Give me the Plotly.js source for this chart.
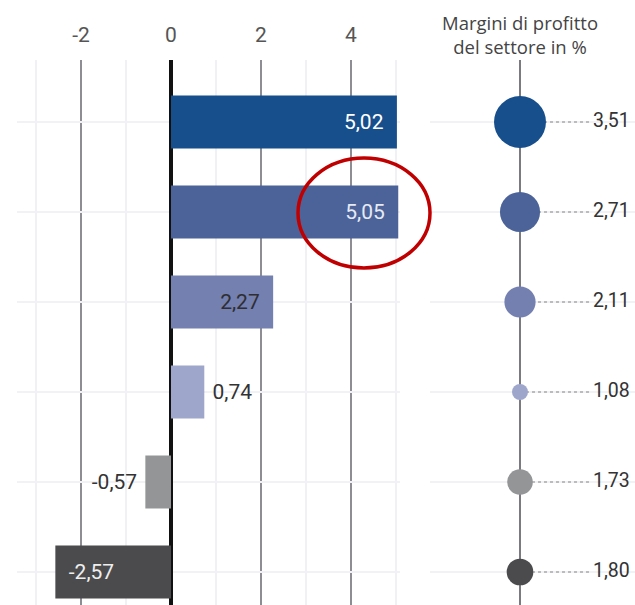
<!DOCTYPE html>
<html><head><meta charset="utf-8">
<script src="https://cdn.plot.ly/plotly-3.0.1.min.js"></script>
<style>html,body{margin:0;padding:0;background:#fff}#c{width:635px;height:605px}</style>
</head><body><div id="c"></div>
<script>
const sectors = ["Settore 1","Settore 2","Settore 3","Settore 4","Settore 5","Settore 6"];
const growth = [5.02, 5.05, 2.27, 0.74, -0.57, -2.57];
const margins = [3.51, 2.71, 2.11, 1.08, 1.73, 1.80];
const colors = ["#174e8c","#4b6399","#7480b0","#9ea6cc","#949597","#4b4b4d"];
const labelPos = ["inside","inside","inside","outside","outside","inside"];
const labelColors = ["#ffffff","#e6eaf4","#2e2e33","#333333","#333333","#eeeeee"];
const tickVals = [-2, 0, 2, 4];
const tickText = ["-2", "0", "2", "4"];
const legendTitle = "Margini di profitto<br>del settore in %";

const NB = "\u00a0\u00a0";
const barTemplates = growth.map((v, i) => labelPos[i] === "inside" ? (v < 0 ? NB + "%{x:.2f}" : "%{x:.2f}" + NB) : "\u00a0%{x:.2f}\u00a0");

const FONT = "Roboto, 'Open Sans', sans-serif";

const bars = {
  type: "bar", orientation: "h",
  x: growth, y: sectors,
  width: 0.59,
  marker: {color: colors},
  texttemplate: barTemplates,
  textposition: labelPos,
  insidetextanchor: "end",
  insidetextfont: {color: labelColors, size: 21, family: FONT},
  outsidetextfont: {color: labelColors, size: 21, family: FONT},
  constraintext: "none",
  cliponaxis: false,
  hoverinfo: "skip",
  xaxis: "x", yaxis: "y"
};

// dotted connector lines from circle to value label (right panel)
const connX = [], connY = [];
sectors.forEach(s => { connX.push(0, 72, null); connY.push(s, s, null); });
const connectors = {
  type: "scatter", mode: "lines",
  x: connX, y: connY,
  line: {color: "#888", width: 1.1, dash: "dot"},
  hoverinfo: "skip", xaxis: "x2", yaxis: "y"
};

const dots = {
  type: "scatter", mode: "markers",
  x: sectors.map(() => 0), y: sectors,
  marker: {size: margins, sizemode: "diameter", sizeref: 1/14.8, color: colors, opacity: 1, line: {width: 0}},
  hoverinfo: "skip", xaxis: "x2", yaxis: "y"
};

const valueLabels = {
  type: "scatter", mode: "text",
  x: sectors.map(() => 73), y: sectors,
  customdata: margins,
  texttemplate: "%{customdata:.2f}",
  textposition: "middle right",
  textfont: {size: 19.5, color: "#333", family: FONT},
  cliponaxis: false,
  hoverinfo: "skip", xaxis: "x2", yaxis: "y"
};

const layout = {
  width: 635, height: 605,
  margin: {l: 0, r: 0, t: 60, b: 0},
  paper_bgcolor: "#fff", plot_bgcolor: "rgba(0,0,0,0)",
  showlegend: false,
  separators: ",.",
  font: {family: FONT, color: "#555"},
  xaxis: {
    domain: [17/635, 400/635],
    range: [(17-171)/45, (400-171)/45],
    side: "top",
    tickvals: tickVals, ticktext: tickText,
    tickfont: {size: 21, color: "#555"},
    ticks: "outside", ticklen: 9, tickcolor: "rgba(0,0,0,0)",
    showgrid: true, gridcolor: "#8d8d93", gridwidth: 1.3,
    minor: {dtick: 1, showgrid: true, gridcolor: "#f0f0f5", gridwidth: 1.5},
    zeroline: true, zerolinecolor: "#111", zerolinewidth: 3.5,
    showline: false, fixedrange: true
  },
  xaxis2: {
    domain: [430/635, 1],
    range: [-90, 115],
    showticklabels: false, showgrid: false,
    zeroline: true, zerolinecolor: "#7a7a80", zerolinewidth: 1.5,
    anchor: "y", fixedrange: true
  },
  yaxis: {
    domain: [0, 1],
    categoryorder: "array", categoryarray: sectors,
    range: [5.367, -0.689],
    showticklabels: false,
    showgrid: true, gridcolor: "#f1f1f6", gridwidth: 2,
    zeroline: false, fixedrange: true
  },
  annotations: [{
    xref: "x2", yref: "paper", x: 0, y: 1, yshift: 52,
    xanchor: "center", yanchor: "top",
    text: legendTitle, showarrow: false, align: "center",
    font: {size: 18.5, color: "#444", family: "'Open Sans', sans-serif"}
  }],
  shapes: [{
    type: "circle", xref: "paper", yref: "paper",
    x0: 298/635, x1: 430/635,
    y0: 1 - (268-60)/545, y1: 1 - (158-60)/545,
    line: {color: "#c00000", width: 3.5}
  }]
};

Plotly.newPlot("c", [bars, connectors, dots, valueLabels], layout, {staticPlot: true});
</script>
</body></html>
